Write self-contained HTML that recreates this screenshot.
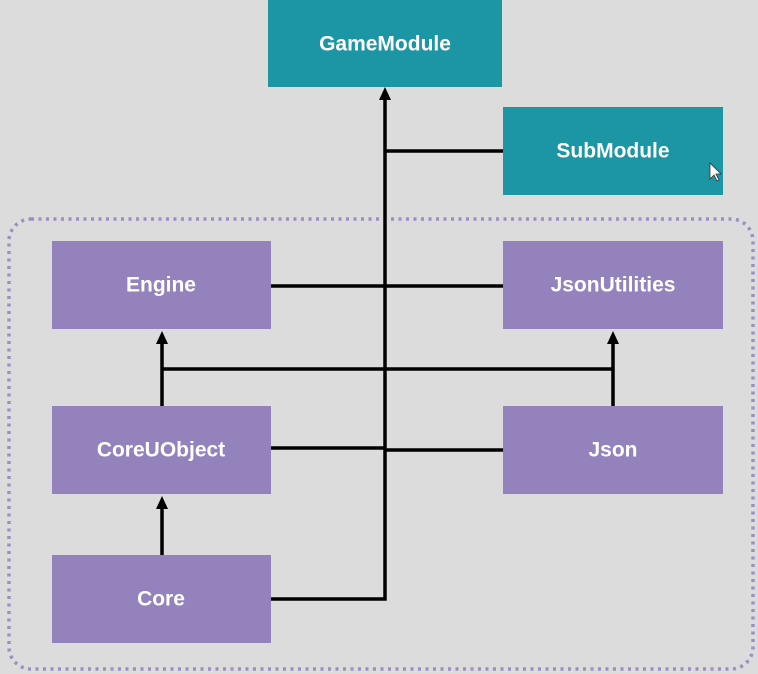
<!DOCTYPE html>
<html><head><style>
body{margin:0;width:758px;height:674px;background:#dcdcdc;overflow:hidden}
svg{display:block}
text{font-family:"Liberation Sans",sans-serif;font-weight:bold;font-size:21px;fill:#fff;text-anchor:middle;dominant-baseline:central}
</style></head><body>
<svg width="758" height="674" viewBox="0 0 758 674">
<rect x="9" y="219" width="744" height="450" rx="22" fill="none" stroke="#9b8fc4" stroke-width="3.5" stroke-dasharray="3,4.5"/>
<g fill="#1c96a4">
<rect x="268" y="0" width="234" height="87"/>
<rect x="503" y="107" width="220" height="88"/>
</g>
<g fill="#9482bd">
<rect x="52" y="241" width="219" height="88"/>
<rect x="503" y="241" width="220" height="88"/>
<rect x="52" y="406" width="219" height="88"/>
<rect x="503" y="406" width="220" height="88"/>
<rect x="52" y="555" width="219" height="88"/>
</g>
<g stroke="#000" stroke-width="3.5" fill="none">
<path d="M271 599H385V98"/>
<path d="M385 151H503"/>
<path d="M271 286H503"/>
<path d="M162 369H613"/>
<path d="M162 406V340"/>
<path d="M613 406V340"/>
<path d="M271 448H385M385 450H503"/>
<path d="M162 555V506"/>
</g>
<g fill="#000">
<path d="M385 87l-6 13h12z"/>
<path d="M162 331l-6 13h12z"/>
<path d="M613 331l-6 13h12z"/>
<path d="M162 496l-6 13h12z"/>
</g>
<text x="385" y="44">GameModule</text>
<text x="613" y="151">SubModule</text>
<text x="161" y="285">Engine</text>
<text x="613" y="285">JsonUtilities</text>
<text x="161" y="450">CoreUObject</text>
<text x="613" y="450">Json</text>
<text x="161" y="599">Core</text>
<path d="M710 163v16l4-4 3 6 2-1-3-6h5z" fill="#fff" stroke="#333" stroke-width="0.8"/>
</svg>
</body></html>
